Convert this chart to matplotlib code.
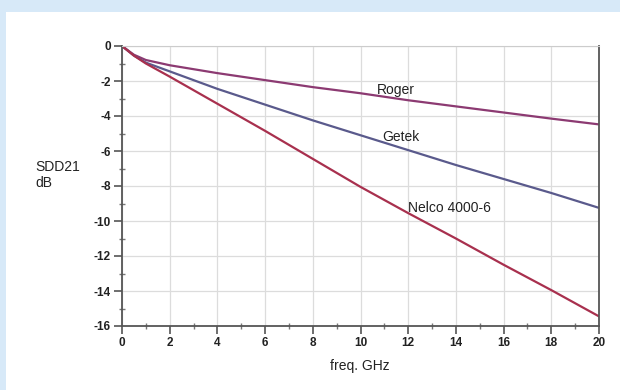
import matplotlib
matplotlib.use('Agg')
import matplotlib.pyplot as plt
from matplotlib.patches import Rectangle
from matplotlib.ticker import MultipleLocator

plt.rcParams['font.family'] = ['Liberation Sans', 'DejaVu Sans']
plt.rcParams['axes.unicode_minus'] = False

# frequency points (GHz) and insertion loss (dB)
freq = [0, 0.5, 1, 2, 4, 6, 8, 10, 12, 14, 16, 18, 20]
roger = [0, -0.5, -0.8, -1.1, -1.55, -1.95, -2.35, -2.7, -3.1, -3.45, -3.8, -4.15, -4.48]
getek = [0, -0.55, -0.95, -1.45, -2.45, -3.35, -4.25, -5.1, -5.95, -6.8, -7.6, -8.4, -9.25]
nelco = [0, -0.55, -1.0, -1.75, -3.3, -4.85, -6.45, -8.05, -9.55, -11.0, -12.5, -13.95, -15.45]

names = ['Roger', 'Getek', 'Nelco 4000-6']
label_pos = [(10.7, -2.5), (10.9, -5.2), (12.0, -9.25)]
colors = ['#8c3a72', '#5a5a8c', '#a8304e']

fig = plt.figure(figsize=(6.2, 3.9), dpi=100)
fig.patch.set_facecolor('#d7e9f8')
# white panel behind the chart
fig.patches.append(Rectangle((6 / 620, 0), 1, 1 - 12 / 390, transform=fig.transFigure,
                             facecolor='white', edgecolor='none', zorder=-5))

ax = fig.add_axes([122 / 620, 1 - 326 / 390, 477 / 620, 280 / 390])
ax.set_facecolor('white')

for ys, c in zip([roger, getek, nelco], colors):
    ax.plot(freq, ys, color=c, lw=1.6, solid_capstyle='butt')

for name, (tx, ty) in zip(names, label_pos):
    ax.text(tx, ty, name, fontsize=10, ha='left', va='center', color='#222222')

ax.set_xlim(0, 20)
ax.set_ylim(-16, 0)
ax.xaxis.set_major_locator(MultipleLocator(2))
ax.xaxis.set_minor_locator(MultipleLocator(1))
ax.yaxis.set_major_locator(MultipleLocator(2))
ax.yaxis.set_minor_locator(MultipleLocator(1))
ax.grid(True, which='major', color='#dcdcdc', lw=0.9)
ax.set_axisbelow(True)

ax.tick_params(which='major', direction='out', length=6, width=1.2, color='#555555',
               labelsize=8.5, labelcolor='#222222', pad=2)
ax.tick_params(which='minor', direction='inout', length=4, width=1.0, color='#777777')
for lab in ax.get_xticklabels() + ax.get_yticklabels():
    lab.set_fontweight('bold')

for s in ['left', 'bottom', 'right']:
    ax.spines[s].set_color('#555555')
    ax.spines[s].set_linewidth(1.3)
ax.spines['top'].set_color('#cccccc')

fig.text(35 / 620, 1 - 175 / 390, 'SDD21\ndB', fontsize=10, ha='left', va='center',
         color='#222222', linespacing=1.1)
fig.text(360 / 620, 1 - 366 / 390, 'freq. GHz', fontsize=10, ha='center', va='center',
         color='#222222')

fig.savefig('out.png', dpi=100, facecolor=fig.get_facecolor())
